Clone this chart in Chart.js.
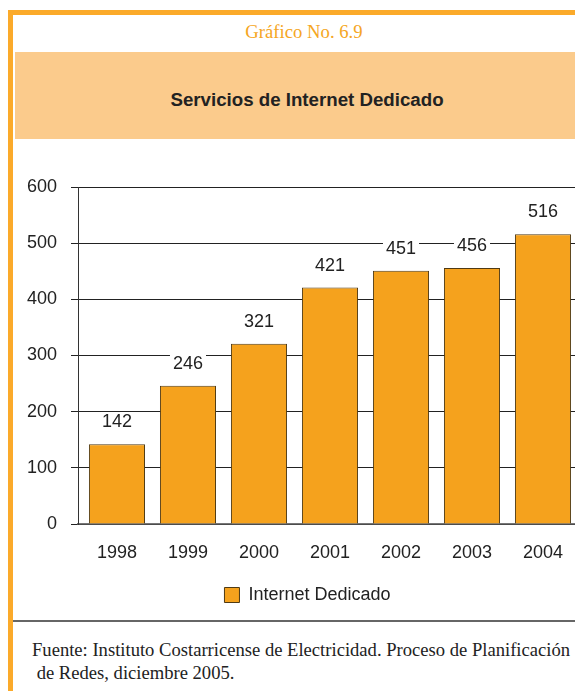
<!DOCTYPE html>
<html>
<head>
<meta charset="utf-8">
<script src="https://cdn.jsdelivr.net/npm/chart.js@4/dist/chart.umd.min.js"></script>
<style>
  html,body{margin:0;padding:0;width:575px;height:691px;overflow:hidden;background:#fff;}
  #frame{position:absolute;left:8px;top:10px;width:620px;height:720px;border-left:5px solid #FBAA2A;border-top:5px solid #FBAA2A;}
  #num{position:absolute;left:15px;width:578px;top:21px;text-align:center;font:18.7px "Liberation Serif",serif;color:#F5A623;}
  #band{position:absolute;left:15px;top:52px;width:620px;height:87px;background:#FBCB8C;}
  #title{position:absolute;left:15px;width:584px;top:89px;text-align:center;font:bold 18.7px "Liberation Sans",Arial,sans-serif;color:#222;}
  #wrap{position:absolute;left:0;top:150px;width:615px;height:470px;}
  #rule{position:absolute;left:13px;top:620px;width:620px;height:2px;background:#666;}
  #src{position:absolute;left:32px;top:638px;font:18.6px "Liberation Serif",serif;color:#222;line-height:23px;white-space:pre;}
</style>
</head>
<body>
<div id="frame"></div>
<div id="num">Gráfico No. 6.9</div>
<div id="band"></div>
<div id="title">Servicios de Internet Dedicado</div>
<div id="wrap"><canvas id="chart" width="615" height="470"></canvas></div>
<div id="rule"></div>
<div id="src">Fuente: Instituto Costarricense de Electricidad. Proceso de Planificación
 de Redes, diciembre 2005.</div>
<script>
// datos
const years      = ['1998','1999','2000','2001','2002','2003','2004'];
const servicios  = [142, 246, 321, 421, 451, 456, 516];
const yTicks     = [0, 100, 200, 300, 400, 500, 600];
const seriesName = 'Internet Dedicado';

const FONT = {family:"'Liberation Sans', Arial, sans-serif", size:18};

// etiquetas de valor sobre cada barra (con fondo blanco que tapa la rejilla)
const valueLabels = {
  id:'valueLabels',
  afterDatasetsDraw(chart){
    const {ctx}=chart, meta=chart.getDatasetMeta(0);
    ctx.save();
    ctx.font=`${FONT.size}px ${FONT.family}`;
    ctx.textAlign='center'; ctx.textBaseline='middle';
    meta.data.forEach((bar,i)=>{
      const t=String(servicios[i]), w=ctx.measureText(t).width, y=bar.y-22;
      ctx.fillStyle='#fff'; ctx.fillRect(bar.x-w/2-3, y-9, w+6, 18);
      ctx.fillStyle='#222'; ctx.fillText(t, bar.x, y);
    });
    ctx.restore();
  }
};

new Chart(document.getElementById('chart'),{
  type:'bar',
  data:{datasets:[{
    label:seriesName,
    data:years.map((y,i)=>({x:i,y:servicios[i]})),
    backgroundColor:'#F5A21D',
    borderColor:'#4f3a14',
    borderWidth:1,
    categoryPercentage:1,
    barPercentage:0.79
  }]},
  plugins:[valueLabels],
  options:{
    responsive:false,animation:false,
    layout:{padding:{top:37,right:0,bottom:6,left:0}},
    plugins:{
      legend:{position:'bottom',labels:{boxWidth:15,boxHeight:15,font:FONT,color:'#222'}},
      tooltip:{enabled:false}
    },
    scales:{
      x:{
        type:'linear',bounds:'data',offset:false,min:-0.549,max:7.014,
        afterBuildTicks:s=>{s.ticks=years.map((_,i)=>({value:i}));},
        afterFit:s=>{s.height=52;},
        grid:{display:false,drawTicks:false,offset:false},
        border:{color:'#777',width:1.5},
        ticks:{padding:18,font:FONT,color:'#222',callback:v=>years[v]}
      },
      y:{
        min:0,max:600,
        afterBuildTicks:s=>{s.ticks=yTicks.map(v=>({value:v}));},
        afterFit:s=>{s.width=78;},
        grid:{color:'#222',lineWidth:1,tickLength:7},
        border:{color:'#333',width:1},
        ticks:{padding:14,font:FONT,color:'#222'}
      }
    }
  }
});
</script>
</body>
</html>
